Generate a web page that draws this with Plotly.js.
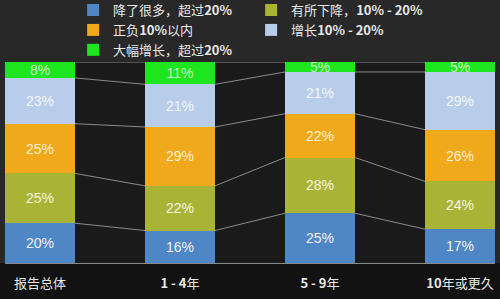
<!DOCTYPE html>
<html><head><meta charset="utf-8">
<script src="https://cdn.plot.ly/plotly-3.0.1.min.js"></script>
<style>html,body{margin:0;padding:0;background:#222;}</style>
</head><body><div id="chart" style="width:500px;height:299px;"></div>
<script>
const categories = ['报告总体', '1 - 4年', '5 - 9年', '10年或更久'];
const tickLabels = ['报告总体', '<b>1 - 4</b>年', '<b>5 - 9</b>年', '<b>10</b>年或更久'];
const seriesNames = ['降了很多，超过<b>20%</b>', '有所下降，<b>10% - 20%</b>', '正负<b>10%</b>以内', '增长<b>10% - 20%</b>', '大幅增长，超过<b>20%</b>'];
const dropMuch = [20, 16, 25, 17];
const dropSome = [25, 22, 28, 24];
const flat = [25, 29, 22, 26];
const growSome = [23, 21, 21, 29];
const growMuch = [8, 11, 5, 5];
const seriesValues = [dropMuch, dropSome, flat, growSome, growMuch];
const colors = ['#4f86c6', '#a9b437', '#f0a91a', '#b8cde9', '#1ee61e'];
const textColors = ['#f2f2f2', '#f4f4e0', '#fbf0d8', '#f4f6fa', '#c8f5c8'];

const xs = categories.map((c, i) => i);
const traces = seriesValues.map((vals, s) => ({
  type: 'bar', x: xs, y: vals, name: seriesNames[s],
  marker: {color: colors[s], line: {width: 0}},
  width: 0.5,
  text: vals.map(v => v + '%'), textposition: 'inside', insidetextanchor: 'middle',
  textfont: {color: textColors[s], size: 14, family: 'Liberation Sans, Arial, sans-serif'},
  hoverinfo: 'skip'
}));

// connector lines between adjacent bars at each stacked boundary (normalized)
const totals = xs.map(i => seriesValues.reduce((a, v) => a + v[i], 0));
const cx = [], cy = [];
for (let k = 1; k <= seriesValues.length; k++) {
  const cum = xs.map(i => seriesValues.slice(0, k).reduce((a, v) => a + v[i], 0) / totals[i] * 100);
  for (let i = 0; i < xs.length - 1; i++) {
    cx.push(i + 0.25, i + 0.75, null);
    cy.push(cum[i], cum[i + 1], null);
  }
}
traces.push({type: 'scatter', mode: 'lines', x: cx, y: cy, showlegend: false, cliponaxis: false,
  line: {color: '#8a8a8a', width: 1}, hoverinfo: 'skip'});

const layout = {
  width: 500, height: 299,
  barmode: 'stack', barnorm: 'percent',
  paper_bgcolor: '#282828', plot_bgcolor: '#1a1a1a',
  margin: {l: 5, r: 5, t: 62, b: 36, autoexpand: false},
  showlegend: true,
  legend: {orientation: 'h', traceorder: 'normal', x: 0.139, xanchor: 'left', y: 1.333, yanchor: 'top',
    entrywidth: 133, entrywidthmode: 'pixels',
    font: {color: '#e8e8e8', size: 13, family: 'Noto Sans CJK SC, sans-serif'},
    itemwidth: 30, tracegroupgap: 0, bgcolor: 'rgba(0,0,0,0)'},
  uniformtext: {minsize: 13, mode: 'show'},
  xaxis: {range: [-0.25, 3.25], tickvals: xs, ticktext: tickLabels, showgrid: false,
    zeroline: false, showline: true, linecolor: '#888', linewidth: 1, ticks: '',
    ticklabelstandoff: 8,
    tickfont: {color: '#e8e8e8', size: 13, family: 'Noto Sans CJK SC, sans-serif'}},
  yaxis: {range: [0, 100], showgrid: false, zeroline: false, showticklabels: false, ticks: ''},
  shapes: [{type: 'rect', xref: 'paper', yref: 'paper', x0: -0.02, x1: 1.02, y0: -0.2, y1: 0, fillcolor: '#121212', line: {width: 0}, layer: 'below'}]
};
Plotly.newPlot('chart', traces, layout, {displayModeBar: false, staticPlot: true});
</script></body></html>
